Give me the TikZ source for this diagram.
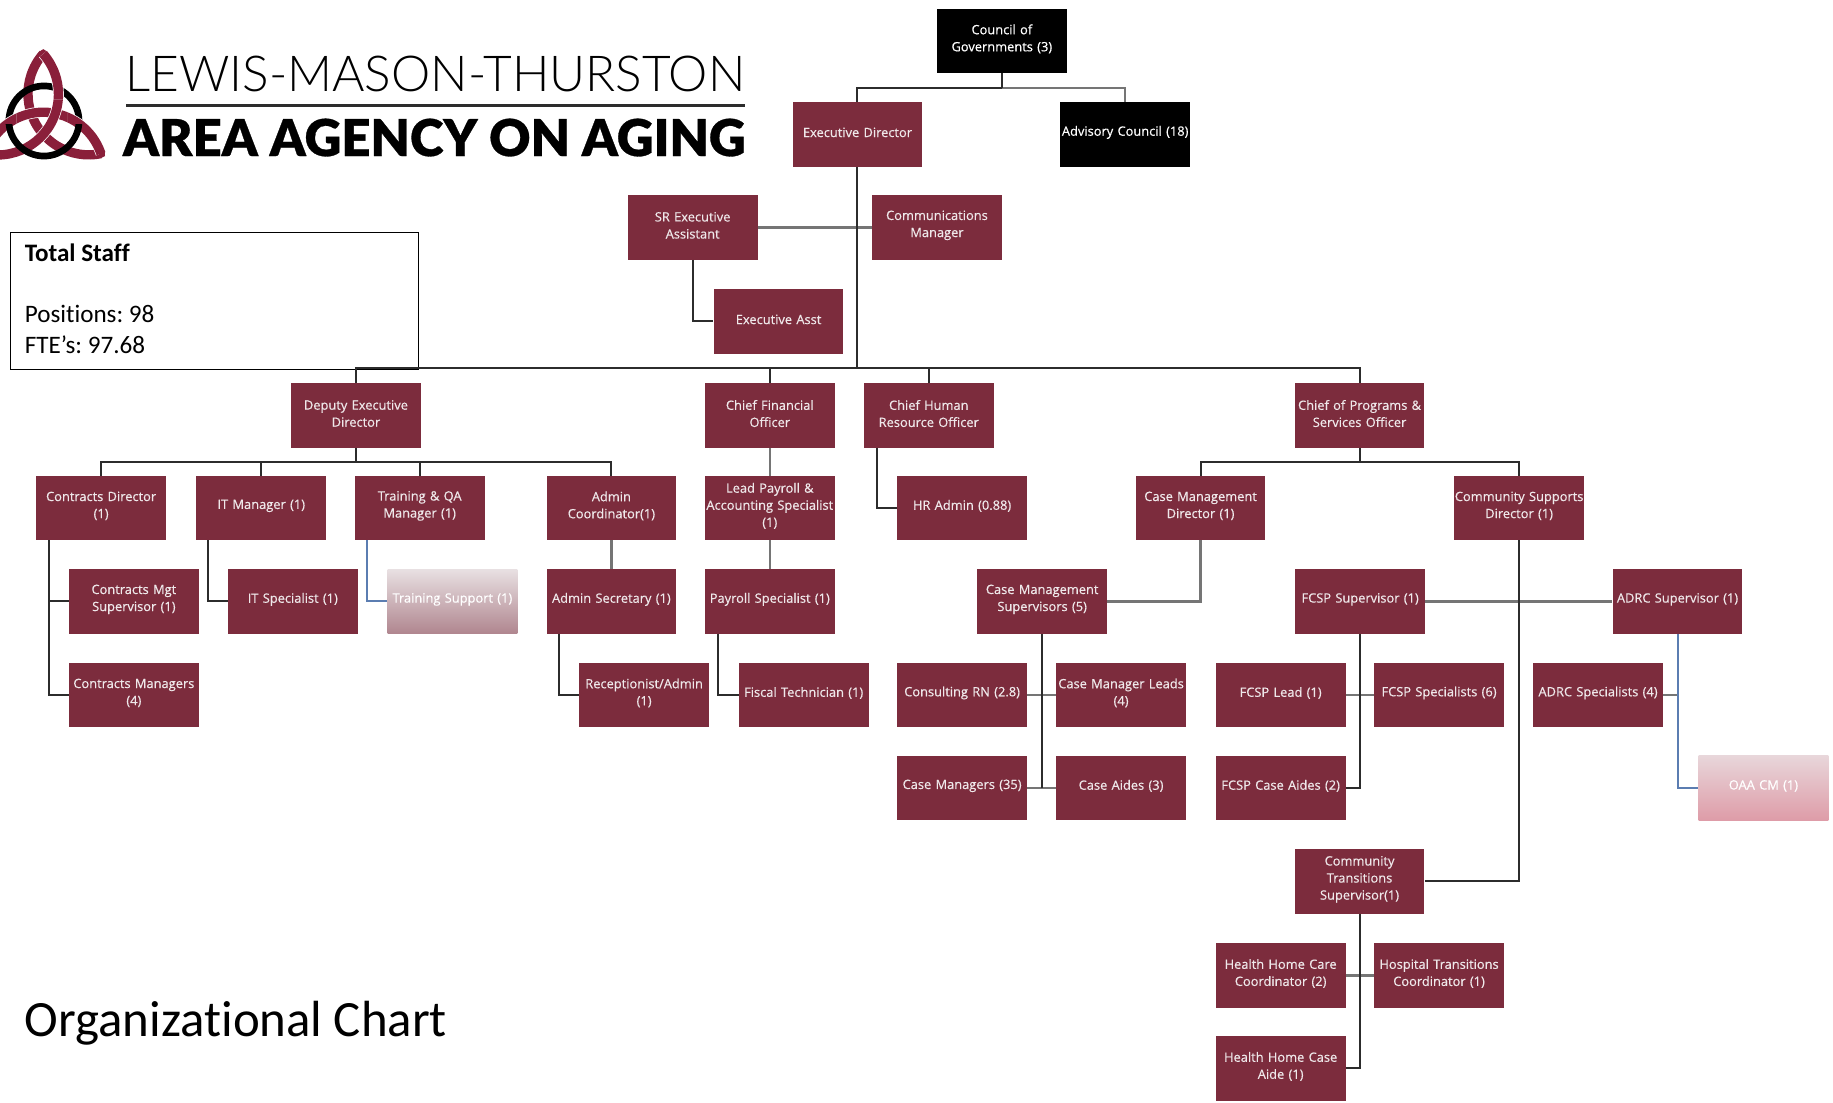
\documentclass[tikz,border=0pt]{standalone}
\usepackage{fontspec}
\setmainfont{Open Sans}
\newfontfamily\calfont[Ligatures=NoCommon]{Carlito}
\newfontfamily\logofont{Lato Light}
\newfontfamily\logobold[FakeBold=0.6]{Lato Black}
\frenchspacing
\definecolor{maroon}{HTML}{7C2C3D}
\definecolor{knotc}{HTML}{8A1F3A}
\definecolor{lineg}{HTML}{2C2C2C}
\definecolor{greyl}{HTML}{757575}
\definecolor{bluel}{HTML}{5B7DB1}
\definecolor{boxtxt}{HTML}{EFE8EA}
\newfontfamily\boxfont[FakeBold=0.5]{Open Sans}
\newcommand{\logoknot}{%
\begin{scope}[shift={(37,103)},yscale=-1]
\foreach \r in {0,120,240}{
  \draw[white,line width=9.2,rotate=\r] (0,57) arc[start angle=138.5,end angle=281.5,radius=52];
  \draw[knot,rotate=\r] (0,57) arc[start angle=138.5,end angle=281.5,radius=52];
  \fill[knotc,rotate=\r] (-3.4,58.8) -- (0,61) -- (3.4,58.8) -- (0,54) -- cycle;
}
\end{scope}}
\tikzset{
  bx/.style={fill=maroon,draw=none,minimum width=111,minimum height=55,text width=111,align=center,inner sep=0,
    text=boxtxt,font=\boxfont\fontsize{11}{14.6}\selectfont,execute at end node={\par\vspace{3.5pt}}},
  blk/.style={bx,fill=black,text=white},
  faint/.style={bx,draw=none,text=white},
  conn/.style={draw=lineg,line width=1.7},
  gconn/.style={draw=greyl,line width=2},
  bconn/.style={draw=bluel,line width=1.7},
  knot/.style={draw=knotc,line width=8}
}
\begin{document}
\begin{tikzpicture}[x=1pt,y=-1pt]
\useasboundingbox (0,0) rectangle (1568,943);
% logo
\begin{scope}
\clip (0,0) rectangle (100,160);
\logoknot
\draw[black,line width=5.7] (37.6,103.5) circle[radius=30];
\begin{scope}
\clip (43,66) rectangle (56,85) (0,84) rectangle (14,106) (58,84) rectangle (80,106);
\logoknot
\end{scope}
\end{scope}
\node[anchor=base west,inner sep=0,font=\logofont\fontsize{42.4}{42}\selectfont] (logo1) at (107,78) {LEWIS-MASON-THURSTON};
\node[anchor=base west,inner sep=0,font=\logobold\fontsize{43.5}{43}\selectfont] (logo2) at (105,133.5) {AREA AGENCY ON AGING};
\draw[draw=lineg,line width=2.5] (108,90) -- (637,90);
% staff box
\node[draw=black,line width=1.2,fill=white,minimum width=349,minimum height=117,inner sep=0,anchor=north west] (staff) at (8.5,198.5) {};
\node[anchor=base west,inner sep=0,font=\calfont\bfseries\fontsize{21.5}{21}\selectfont] (staff1) at (21,224) {Total Staff};
\node[anchor=base west,inner sep=0,font=\calfont\fontsize{21.5}{21}\selectfont] (staff2) at (21,276) {Positions: 98};
\node[anchor=base west,inner sep=0,font=\calfont\fontsize{21.5}{21}\selectfont] (staff3) at (21,302) {FTE’s: 97.68};
\node[anchor=base west,inner sep=0,font=\calfont\fontsize{43.5}{43}\selectfont] (title) at (21,887) {Organizational Chart};
% boxes
\node[blk] (council) at (857,35) {Council of\\Governments (3)};
\node[bx] (exec) at (733.5,115) {Executive Director};
\node[blk] (adv) at (962.5,115) {Advisory Council (18)};
\node[bx] (sr) at (592.5,194.5) {SR Executive\\Assistant};
\node[bx] (comm) at (801.5,194.5) {Communications\\Manager};
\node[bx] (asst) at (666,275) {Executive Asst};
\node[bx] (deputy) at (304.5,355.5) {Deputy Executive\\Director};
\node[bx] (cfo) at (658.5,355.5) {Chief Financial\\Officer};
\node[bx] (chro) at (794.5,355.5) {Chief Human\\Resource Officer};
\node[bx] (chief) at (1163,355.5) {Chief of Programs \&\\Services Officer};
\node[bx] (contracts) at (86.5,434.5) {Contracts Director\\(1)};
\node[bx] (it) at (223.5,434.5) {IT Manager (1)};
\node[bx] (train) at (359,434.5) {Training \& QA\\Manager (1)};
\node[bx] (admin) at (523,434.5) {Admin\\Coordinator(1)};
\node[bx] (lead) at (658.5,434.5) {Lead Payroll \&\\Accounting Specialist\\(1)};
\node[bx] (hr) at (823,434.5) {HR Admin (0.88)};
\node[bx] (cmd) at (1027,434.5) {Case Management\\Director (1)};
\node[bx] (csd) at (1299.5,434.5) {Community Supports\\Director (1)};
\node[bx] (cmgt) at (114.5,514.5) {Contracts Mgt\\Supervisor (1)};
\node[bx] (itspec) at (250.5,514.5) {IT Specialist (1)};
\node[faint,shade,top color={rgb,255:red,232;green,224;blue,226},bottom color={rgb,255:red,176;green,134;blue,143},text=white] (tsup) at (387,514.5) {Training Support (1)};
\node[bx] (asec) at (523,514.5) {Admin Secretary (1)};
\node[bx] (pay) at (658.5,514.5) {Payroll Specialist (1)};
\node[bx] (cms) at (891.5,514.5) {Case Management\\Supervisors (5)};
\node[bx] (fcsp) at (1163.5,514.5) {FCSP Supervisor (1)};
\node[bx] (adrc) at (1435,514.5) {ADRC Supervisor (1)};
\node[bx] (cman) at (114.5,594.5) {Contracts Managers\\(4)};
\node[bx] (recep) at (551,594.5) {Receptionist/Admin\\(1)};
\node[bx] (fiscal) at (687.5,594.5) {Fiscal Technician (1)};
\node[bx] (rn) at (823,594.5) {Consulting RN (2.8)};
\node[bx] (cml) at (959,594.5) {Case Manager Leads\\(4)};
\node[bx] (flead) at (1095.5,594.5) {FCSP Lead (1)};
\node[bx] (fspec) at (1231,594.5) {FCSP Specialists (6)};
\node[bx] (aspec) at (1367,594.5) {ADRC Specialists (4)};
\node[bx] (cmgr) at (823,674) {Case Managers (35)};
\node[bx] (caide) at (959,674) {Case Aides (3)};
\node[bx] (fcase) at (1095.5,674) {FCSP Case Aides (2)};
\node[faint,shade,top color={rgb,255:red,232;green,214;blue,218},bottom color={rgb,255:red,222;green,156;blue,168},text=white] (oaa) at (1508.5,674) {OAA CM (1)};
\node[bx] (cts) at (1163,754) {Community\\Transitions\\Supervisor(1)};
\node[bx] (hhc) at (1095.5,834.5) {Health Home Care\\Coordinator (2)};
\node[bx] (hosp) at (1231,834.5) {Hospital Transitions\\Coordinator (1)};
\node[bx] (hhca) at (1095.5,914) {Health Home Case\\Aide (1)};
% junctions
\coordinate (j1) at (857,75);
\coordinate (j2) at (733.5,315);
\coordinate (j3) at (304.5,395);
\coordinate (j4) at (1163,395);
% connectors
\draw[gconn] (j1) -| (adv.north);
\draw[gconn] (sr.east) -- (comm.west);
\draw[conn] (council.south) -- (j1);
\draw[conn] (exec.north) |- (j1);
\draw[conn] (exec.south) -- (j2);
\draw[conn] (sr.south) |- (asst.west);
\draw[conn] (deputy.north) |- (j2) -| (chief.north);
\draw[conn] (cfo.north) -- (cfo.north |- j2);
\draw[conn] (chro.north) -- (chro.north |- j2);
\draw[conn] (deputy.south) -- (j3);
\draw[conn] (contracts.north) |- (j3) -| (admin.north);
\draw[conn] (it.north) -- (it.north |- j3);
\draw[conn] (train.north) -- (train.north |- j3);
\draw[gconn] (cfo.south) -- (lead.north);
\draw[gconn] (lead.south) -- (pay.north);
\draw[gconn] (admin.south) -- (asec.north);
\draw[conn] (750,383) |- (hr.west);
\draw[conn] (chief.south) -- (j4);
\draw[conn] (cmd.north) |- (j4) -| (csd.north);
\draw[conn] (42,462) |- (cmgt.west);
\draw[conn] (42,462) |- (cman.west);
\draw[conn] (178,462) |- (itspec.west);
\draw[bconn] (314,462) |- (tsup.west);
\draw[conn] (478,542) |- (recep.west);
\draw[conn] (614,542) |- (fiscal.west);
\draw[gconn] (cmd.south) |- (cms.east);
\draw[gconn] (rn.east) -- (cml.west);
\draw[gconn] (cmgr.east) -- (caide.west);
\draw[conn] (cms.south) -- (cms.south |- caide.west);
\draw[gconn] (fcsp.east) -- (adrc.west);
\draw[conn] (csd.south) |- (cts.east);
\draw[gconn] (flead.east) -- (fspec.west);
\draw[conn] (fcsp.south) |- (fcase.east);
\draw[gconn] (aspec.east) -- (aspec.east -| adrc.south);
\draw[bconn] (adrc.south) |- (oaa.west);
\draw[gconn] (hhc.east) -- (hosp.west);
\draw[conn] (cts.south) |- (hhca.east);
\end{tikzpicture}
\end{document}
